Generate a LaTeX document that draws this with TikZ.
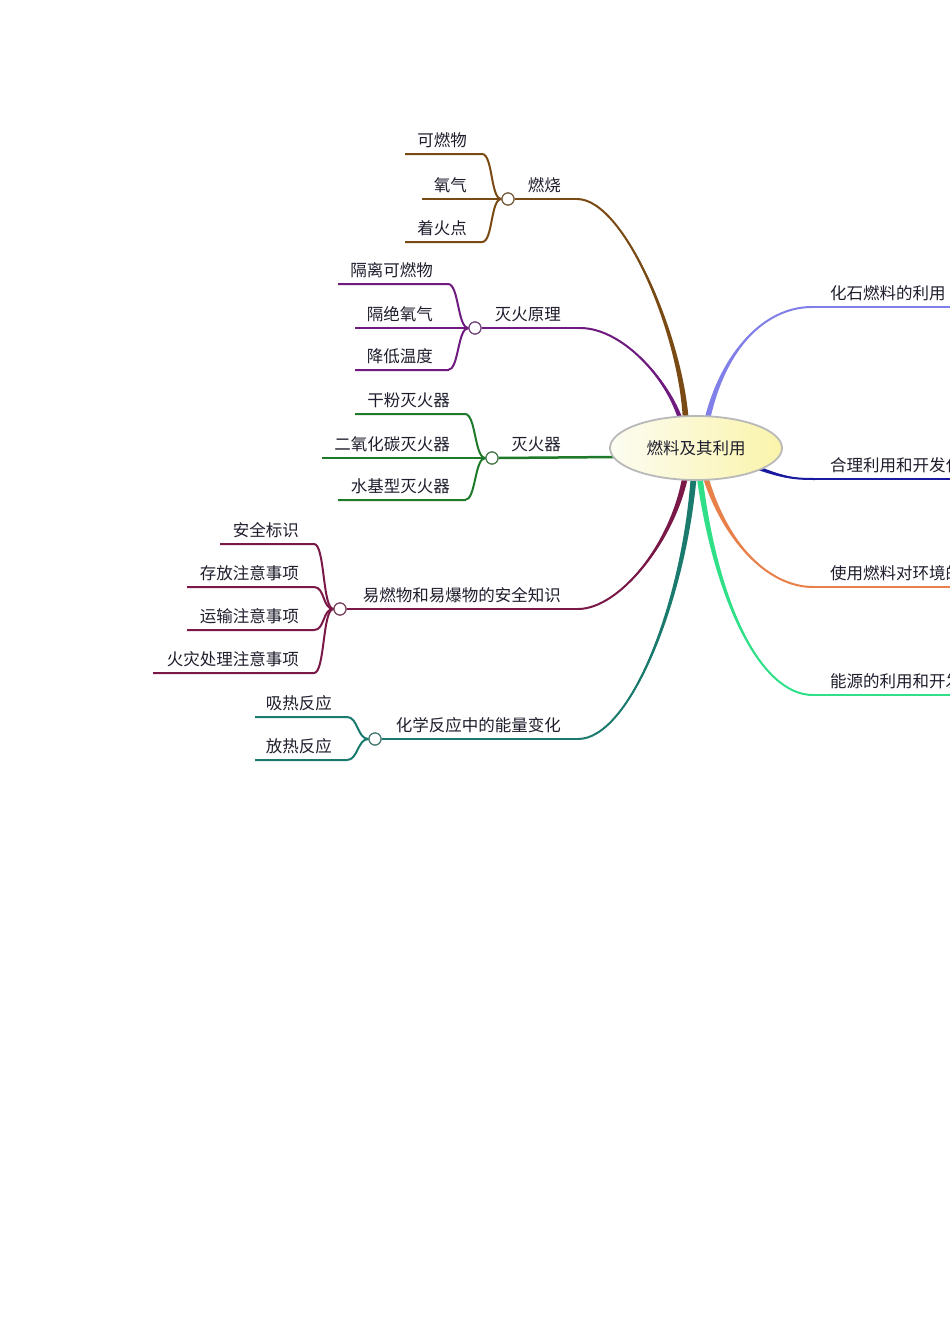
\documentclass[tikz,border=0pt]{standalone}
\usepackage{fontspec}
\setmainfont{Noto Sans CJK SC}
\usetikzlibrary{calc,shapes.geometric}
\definecolor{cBrown}{RGB}{122,74,20}
\definecolor{cPurple}{RGB}{110,26,126}
\definecolor{cGreen}{RGB}{30,122,40}
\definecolor{cWine}{RGB}{122,24,72}
\definecolor{cTeal}{RGB}{26,122,110}
\definecolor{cPeri}{RGB}{128,128,232}
\definecolor{cNavy}{RGB}{26,26,160}
\definecolor{cOrange}{RGB}{232,128,74}
\definecolor{cSpring}{RGB}{48,224,136}
\definecolor{cText}{RGB}{30,30,45}
\tikzset{
  lbl/.style={font=\fontsize{16.5}{18}\selectfont, text=cText, inner sep=0pt, anchor=base east},
  rlbl/.style={font=\fontsize{16.5}{18}\selectfont, text=cText, inner sep=0pt, anchor=base west},
  knob/.style={circle, draw=#1!55!gray, fill=white, line width=1.2pt, minimum size=12pt, inner sep=0pt},
  twig/.style={draw=#1, line width=2pt},
}
% tapered main branch: colour, start, c1, c2, end, half-width vector
\newcommand{\taperbranch}[6]{%
  \fill[#1] ($#2+(#6)$) .. controls ($#3+0.6*(#6)$) and ($#4+0.2*(#6)$) .. #5
     .. controls ($#4-0.2*(#6)$) and ($#3-0.6*(#6)$) .. ($#2-(#6)$) -- cycle;
  \draw[#1, line width=2pt] #2 .. controls #3 and #4 .. #5;}
% child twig: colour, knob, y, x start, x end, text
\newcommand{\twigline}[6]{%
  \draw[twig=#1] (#2.west) .. controls ($(#2.west)+(-11,0)$) and ($(#5,#3)+(11,0)$) .. (#5,#3) -- (#4,#3);
  \node[lbl] (#2t#3) at ($(#5,#3)+(-15,-8)$) {#6};}
\begin{document}
\begin{tikzpicture}[x=1pt,y=-1pt]
\useasboundingbox (0,0) rectangle (950,1344);
\clip (0,0) rectangle (950,1344);
\fill[white] (0,0) rectangle (950,1344);

% coordinates
\coordinate (s1) at (686,425); \coordinate (h1) at (577,199);
\coordinate (s2) at (682,425); \coordinate (h2) at (580,328);
\coordinate (g3) at (616,457);
\coordinate (s4) at (686,472); \coordinate (h4) at (578,609);
\coordinate (s5) at (694,472); \coordinate (h5) at (578,739);
\coordinate (s6) at (706,425); \coordinate (h6) at (812,307); \coordinate (e6) at (970,307);
\coordinate (s7) at (758,468); \coordinate (h7) at (815,479); \coordinate (e7) at (970,479);
\coordinate (s8) at (704,472); \coordinate (h8) at (813,587); \coordinate (e8) at (970,587);
\coordinate (s9) at (699,472); \coordinate (h9) at (813,695); \coordinate (e9) at (970,695);

% main tapered branches
\taperbranch{cBrown}{(s1)}{(683,340)}{(625,199)}{(h1)}{3,0}
\taperbranch{cPurple}{(s2)}{(672,385)}{(625,328)}{(h2)}{2.5,0}
\taperbranch{cWine}{(s4)}{(675,540)}{(620,609)}{(h4)}{3,0}
\taperbranch{cTeal}{(s5)}{(685,600)}{(630,739)}{(h5)}{3,0}
\taperbranch{cSpring}{(s9)}{(715,600)}{(760,695)}{(h9)}{3,0}
\taperbranch{cOrange}{(s8)}{(725,545)}{(770,587)}{(h8)}{3,0}
\taperbranch{cPeri}{(s6)}{(722,350)}{(765,307)}{(h6)}{3,0}
\taperbranch{cNavy}{(s7)}{(785,478)}{(795,479)}{(h7)}{0,2}

% knobs
\node[knob=cBrown] (k1) at (508,199) {};
\node[knob=cPurple] (k2) at (475,328) {};
\node[knob=cGreen] (k3) at (492,458) {};
\node[knob=cWine] (k4) at (340,609) {};
\node[knob=cTeal] (k5) at (375,739) {};

% horizontal parts of branches
\draw[twig=cBrown] (k1.east) -- (h1);
\draw[twig=cPurple] (k2.east) -- (h2);
\draw[cGreen, line width=2.5pt] (k3.east) -- (g3);
\draw[twig=cWine] (k4.east) -- (h4);
\draw[twig=cTeal] (k5.east) -- (h5);
\draw[twig=cPeri] (h6) -- (e6);
\draw[twig=cNavy] (h7) -- (e7);
\draw[twig=cOrange] (h8) -- (e8);
\draw[twig=cSpring] (h9) -- (e9);

% centre
\node[ellipse, minimum width=172pt, minimum height=64pt, draw=gray!55, line width=1.8pt,
      left color={rgb,255:red,252;green,252;blue,242}, right color={rgb,255:red,250;green,244;blue,170},
      font=\fontsize{16.5}{18}\selectfont, text=cText] (c) at (696,448) {燃料及其利用};

% parent labels
\node[lbl] (p1) at (561,191) {燃烧};
\node[lbl] (p2) at (561,320) {灭火原理};
\node[lbl] (p3) at (561,450) {灭火器};
\node[lbl] (p4) at (561,601) {易燃物和易爆物的安全知识};
\node[lbl] (p5) at (561,731) {化学反应中的能量变化};
\node[rlbl] (p6) at (830,299) {化石燃料的利用};
\node[rlbl] (p7) at (830,471) {合理利用和开发化石能源};
\node[rlbl] (p8) at (830,579) {使用燃料对环境的影响};
\node[rlbl] (p9) at (830,687) {能源的利用和开发};

% children
\twigline{cBrown}{k1}{154}{405}{482}{可燃物}
\twigline{cBrown}{k1}{199}{422}{482}{氧气}
\twigline{cBrown}{k1}{242}{405}{482}{着火点}

\twigline{cPurple}{k2}{284}{338}{448}{隔离可燃物}
\twigline{cPurple}{k2}{328}{355}{448}{隔绝氧气}
\twigline{cPurple}{k2}{370}{355}{448}{降低温度}

\twigline{cGreen}{k3}{414}{355}{465}{干粉灭火器}
\twigline{cGreen}{k3}{458}{322}{465}{二氧化碳灭火器}
\twigline{cGreen}{k3}{500}{338}{465}{水基型灭火器}

\twigline{cWine}{k4}{544}{220}{314}{安全标识}
\twigline{cWine}{k4}{587}{187}{314}{存放注意事项}
\twigline{cWine}{k4}{630}{187}{314}{运输注意事项}
\twigline{cWine}{k4}{673}{153}{314}{火灾处理注意事项}

\twigline{cTeal}{k5}{717}{255}{347}{吸热反应}
\twigline{cTeal}{k5}{760}{255}{347}{放热反应}

% redraw knobs on top of twigs
\node[knob=cBrown] at (k1) {};
\node[knob=cPurple] at (k2) {};
\node[knob=cGreen] at (k3) {};
\node[knob=cWine] at (k4) {};
\node[knob=cTeal] at (k5) {};
\end{tikzpicture}
\end{document}
